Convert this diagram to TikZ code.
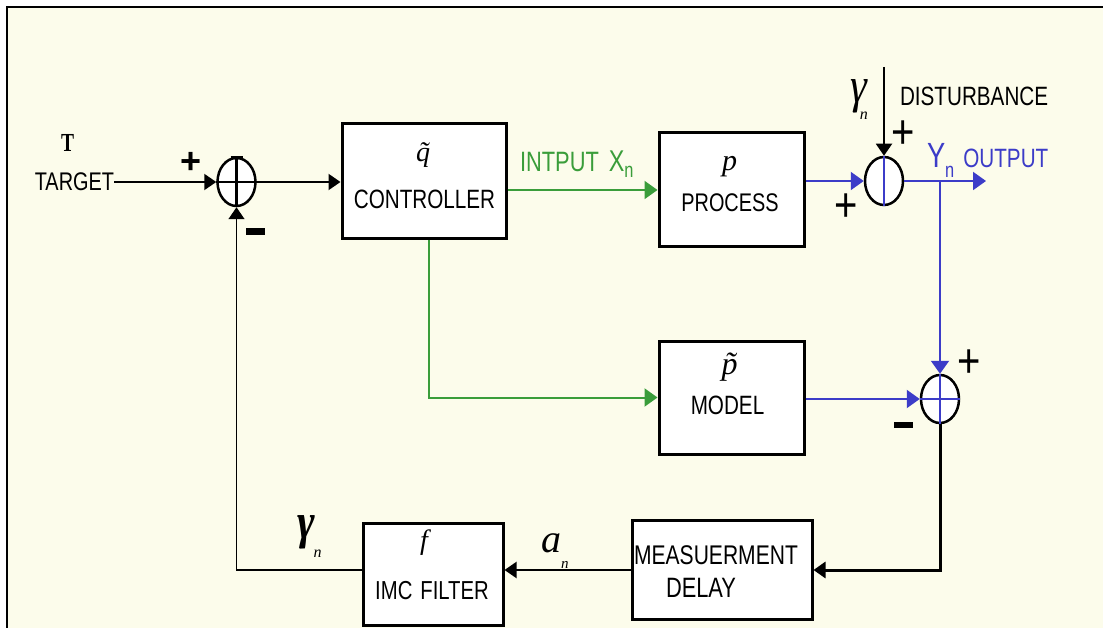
\documentclass[tikz,border=0pt]{standalone}
\usepackage{fontspec}
\usepackage{graphicx}
\setmainfont{Liberation Serif}
\newfontfamily\nsf[FakeStretch=0.78]{Liberation Sans}
\newfontfamily\sans{Liberation Sans}
\newfontfamily\serif{Liberation Serif}
\usetikzlibrary{arrows.meta,shapes.geometric,calc}
\definecolor{bgc}{RGB}{252,252,235}
\definecolor{grn}{RGB}{58,157,58}
\definecolor{blu}{RGB}{60,60,200}
\newcommand{\fs}[1]{\fontsize{#1}{#1}\selectfont}
\newsavebox\accbox
\newcommand{\tildeacc}[2]{\sbox\accbox{#2}\makebox[0pt][l]{\makebox[\wd\accbox][c]{\hspace{#1}\char"02DC}}\usebox\accbox}
\begin{document}
\begin{tikzpicture}[x=1pt,y=-1pt,
  box/.style={draw, line width=3pt, fill=white, inner sep=0pt},
  sumj/.style={draw, ellipse, line width=2.5pt, fill=white, minimum width=38pt, minimum height=48pt, inner sep=0pt},
  conn/.style={line width=2pt},
  tip/.style={-{Triangle[length=12pt,width=16pt]}},
  tipc/.style={-{Triangle[length=13pt,width=18pt]}},
  lbl/.style={inner sep=0pt, outer sep=0pt},
  plus/.style={inner sep=0pt, outer sep=0pt, font=\sans\fs{40}},
  ]
\useasboundingbox (0,0) rectangle (1103,628);
\fill[white] (0,0) rectangle (1103,628);
\fill[bgc] (7,7) rectangle (1103,628);
\draw[line width=1.5pt] (7,628) -- (7,7) -- (1103,7);

% blocks
\node[box, minimum width=164pt, minimum height=115pt] (ctrl) at (424,181.5) {};
\node[box, minimum width=145pt, minimum height=114pt] (proc) at (731.5,190) {};
\node[box, minimum width=145pt, minimum height=113pt] (model) at (731.5,397.5) {};
\node[box, minimum width=180pt, minimum height=99pt] (meas) at (722,570) {};
\node[box, minimum width=140pt, minimum height=102pt] (filt) at (433,574) {};

% summing junctions
\node[sumj] (s1) at (236.5,182) {};
\node[sumj] (s2) at (884,181) {};
\node[sumj] (s3) at (940,399) {};
\draw[line width=3pt] (s1.north) -- (s1.south);
\draw[line width=2pt] (s1.west) -- (s1.east);
\draw[line width=2pt] ($(s1.north)+(-6,0)$) -- ($(s1.north)+(6,0)$);
\draw[blu, line width=1.5pt] (s2.north) -- (s2.south);
\draw[blu, line width=1.5pt] (s3.north) -- (s3.south);
\draw[blu, line width=2pt] (s3.west) -- (s3.east);

% labels
\node[lbl, anchor=base west] (tlab) at (61,151.5) {\serif\bfseries\fs{26}\scalebox{0.75}[1]{T}};
\node[lbl, anchor=base east] (target) at (114,191) {\nsf\fs{25.5}TARGET};
\node[lbl] (p1) at (191,163) {\sans\bfseries\fs{36}+};
\node[lbl] (m1) at (255.5,231.5) {\rule{19pt}{6.5pt}};
\node[plus] (p2) at (903.5,135) {\scalebox{1}[1.2]{+}};
\node[plus] (p3) at (846.5,208) {\scalebox{1}[1.2]{+}};
\node[plus] (p4) at (969.5,364) {\scalebox{1}[1.2]{+}};
\node[lbl] (m2) at (903.5,425) {\rule{19pt}{6.5pt}};

\node[lbl, anchor=base] (ctrlsym) at (423,162) {\serif\itshape\fs{28}\tildeacc{1pt}{q}};
\node[lbl, anchor=base] (ctrltxt) at (424.5,209) {\nsf\fs{26.5}CONTROLLER};
\node[lbl, anchor=base] (procsym) at (729.5,171) {\serif\itshape\fs{30}p};
\node[lbl, anchor=base] (proctxt) at (730,212) {\nsf\fs{25.5}PROCESS};
\node[lbl, anchor=base] (modsym) at (729.5,374) {\serif\itshape\fs{32}\tildeacc{1pt}{p}};
\node[lbl, anchor=base] (modtxt) at (727.5,414) {\nsf\fs{26.5}MODEL};
\node[lbl, anchor=base] (meastxt) at (716,564) {\nsf\fs{27}MEASUERMENT};
\node[lbl, anchor=base] (delaytxt) at (701,597) {\nsf\fs{28}DELAY};
\node[lbl, anchor=base] (filtsym) at (424,549) {\serif\itshape\fs{28}f};
\node[lbl, anchor=base] (filttxt) at (432,599) {\nsf\fs{26}IMC\hspace{8pt}FILTER};
\node[lbl, anchor=base west, text=grn] (xlab) at (520,172) {\nsf\fs{28}INTPUT\hspace{10pt}\fs{30}X\raisebox{-6pt}{\fs{21}n}};
\node[lbl, anchor=base west, text=blu] (ylab) at (927,168) {\nsf\fs{35}Y\raisebox{-10pt}{\fs{21}n}\hspace{9pt}\fs{26.5}OUTPUT};
\node[lbl, anchor=base west] (distlab) at (900,106) {\nsf\fs{26.5}DISTURBANCE};
\node[lbl, anchor=base west] (g1) at (850,103) {\serif\itshape\fs{50}\scalebox{0.85}[1]{γ}\kern-7pt\raisebox{-17pt}{\fs{16}n}};
\node[lbl, anchor=base west] (g2) at (297,538) {\serif\bfseries\itshape\fs{50}\scalebox{0.85}[1]{γ}\kern-1pt\raisebox{-19pt}{\mdseries\fs{16}n}};
\node[lbl, anchor=base west] (alab) at (541,552) {\serif\itshape\fs{40}a\raisebox{-16pt}{\fs{15}n}};

% connectors
\coordinate (gx) at (429,0);
\coordinate (yout) at (986,181);
\coordinate (dist) at (884,67);
\draw[conn,tip] (s1.west -| target.east) -- (s1.west);
\draw[conn,tip] (s1.east) -- (s1.east -| ctrl.west);
\draw[conn,grn,tipc] (proc.west -| ctrl.east) -- (proc.west);
\draw[conn,grn,tipc] (ctrl.south -| gx) |- (model.west);
\draw[conn,blu,tipc] (s2.west -| proc.east) -- (s2.west);
\draw[conn,blu,tipc] (s2.east) -- (yout);
\draw[conn,blu,tipc] (s2 -| s3.north) -- (s3.north);
\draw[conn,blu,tipc] (s3.west -| model.east) -- (s3.west);
\draw[conn,tip] (dist) -- (s2.north);
\draw[line width=3pt,tip] (s3.south) |- (meas.east);
\draw[conn,tip] (meas.west) -- (filt.east |- meas.west);
\draw[line width=1.5pt,tip] (filt.west |- meas.west) -| (s1.south);
\end{tikzpicture}
\end{document}
